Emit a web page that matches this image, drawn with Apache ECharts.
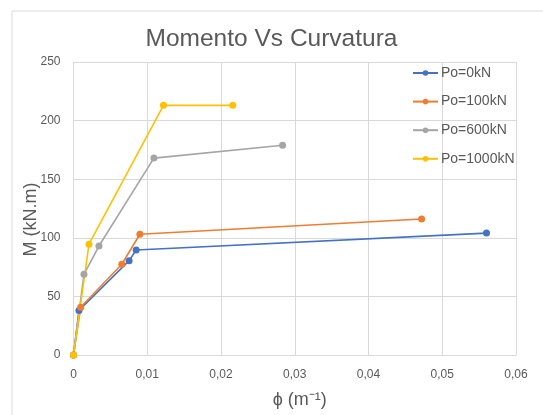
<!DOCTYPE html>
<html>
<head>
<meta charset="utf-8">
<script src="https://cdn.jsdelivr.net/npm/echarts@6/dist/echarts.min.js"></script>
<style>html,body{margin:0;padding:0;background:#fff}#c{width:543px;height:415px}</style>
</head>
<body>
<div id="c"></div>
<script>
// Data (curvature m^-1, moment kN.m)
const seriesNames = ['Po=0kN', 'Po=100kN', 'Po=600kN', 'Po=1000kN'];
const po0 = [[0, 0], [0.00074, 38], [0.00754, 80.5], [0.0085, 89.6], [0.0560, 104]];
const po100 = [[0, 0], [0.00097, 40.7], [0.00655, 77.4], [0.0090, 103], [0.0472, 116]];
const po600 = [[0, 0], [0.00142, 68.8], [0.00345, 93], [0.0109, 168], [0.02835, 179]];
const po1000 = [[0, 0], [0.0021, 94.5], [0.0122, 213], [0.0216, 213]];
const colors = ['#4472C4', '#ED7D31', '#A5A5A5', '#FFC000'];

const chart = echarts.init(document.getElementById('c'));
const font = 'Liberation Sans';
const dataSets = [po0, po100, po600, po1000];
chart.setOption({
  animation: false,
  backgroundColor: '#fff',
  textStyle: { fontFamily: font },
  title: {
    text: 'Momento Vs Curvatura',
    left: 'center',
    top: 22,
    textStyle: { fontFamily: font, fontSize: 24.5, fontWeight: 'normal', color: '#595959' }
  },
  graphic: [
    { type: 'line', shape: { x1: 12, y1: 11, x2: 543, y2: 11 }, style: { stroke: '#d9d9d9', lineWidth: 1 } },
    { type: 'line', shape: { x1: 12, y1: 11, x2: 12, y2: 415 }, style: { stroke: '#d9d9d9', lineWidth: 1 } }
  ],
  legend: {
    orient: 'vertical',
    left: 407,
    top: 61,
    itemWidth: 25,
    itemHeight: 7,
    itemGap: 14.6,
    textStyle: { fontFamily: font, fontSize: 14, color: '#595959', padding: [0, 0, 0, -2] },
    data: seriesNames
  },
  grid: { left: 73.5, right: 27, top: 62, bottom: 60 },
  xAxis: {
    type: 'value', min: 0, max: 0.06, interval: 0.01,
    name: 'ϕ (m⁻¹)', nameLocation: 'middle', nameGap: 36, nameMoveOverlap: false,
    nameTextStyle: { fontFamily: font, fontSize: 18, color: '#595959', padding: [0, 0, 0, 10] },
    axisLine: { show: true, lineStyle: { color: '#d9d9d9' } },
    axisTick: { show: false },
    splitLine: { show: true, lineStyle: { color: '#d9d9d9' } },
    axisLabel: { fontSize: 12, color: '#595959', margin: 14, formatter: v => String(+v.toFixed(2)).replace('.', ',') }
  },
  yAxis: {
    type: 'value', min: 0, max: 250, interval: 50,
    name: 'M (kN.m)', nameLocation: 'middle', nameGap: 33, nameMoveOverlap: false,
    nameTextStyle: { fontFamily: font, fontSize: 18, color: '#595959', padding: [0, 22, 0, 0] },
    axisLine: { show: false },
    axisTick: { show: false },
    splitLine: { show: true, lineStyle: { color: '#d9d9d9' } },
    axisLabel: { fontSize: 12, color: '#595959', margin: 13 }
  },
  series: dataSets.map((d, i) => ({
    name: seriesNames[i],
    type: 'line',
    data: d,
    symbol: 'circle',
    symbolSize: 7,
    color: colors[i],
    lineStyle: { width: 1.6, color: colors[i] },
    itemStyle: { color: colors[i] }
  }))
});
</script>
</body>
</html>
